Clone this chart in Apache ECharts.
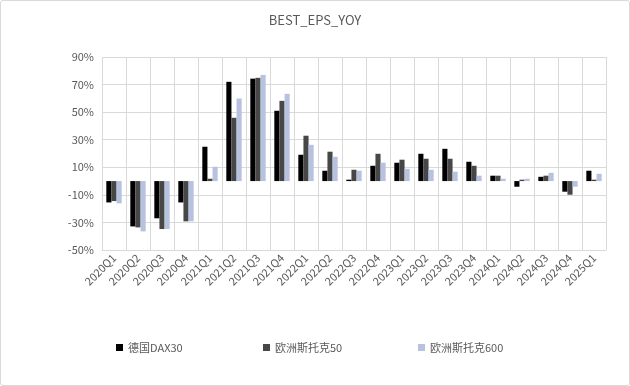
<!DOCTYPE html>
<html><head><meta charset="utf-8">
<script src="https://cdn.jsdelivr.net/npm/echarts@6/dist/echarts.min.js"></script>
<style>
html,body{margin:0;padding:0;background:#fff;}
#c{width:628px;height:384px;border:1px solid #d9d9d9;border-radius:3px;}
</style></head>
<body><div id="c"></div>
<script>
const categories = ['2020Q1','2020Q2','2020Q3','2020Q4','2021Q1','2021Q2','2021Q3','2021Q4','2022Q1','2022Q2','2022Q3','2022Q4','2023Q1','2023Q2','2023Q3','2023Q4','2024Q1','2024Q2','2024Q3','2024Q4','2025Q1'];
const dax30 = [-15.5,-32.9,-27,-15.5,24.9,72,74.3,51,19.1,7.5,1,11.1,13.3,19.8,23.4,14,3.9,-4.1,3.1,-7.7,7.5];
const stoxx50 = [-14.5,-33.6,-34.8,-29.2,1.7,45.9,74.9,58.2,32.9,21.3,8.2,19.8,15.5,16.2,16.2,11.1,3.9,1,3.9,-9.9,1];
const stoxx600 = [-16.2,-36.5,-34.8,-29.2,10.4,59.9,77,63.3,26.3,17.6,7.5,13.3,8.9,8.2,6.8,3.9,1.7,1.7,6,-4.1,5.3];
const seriesNames = ['德国DAX30','欧洲斯托克50','欧洲斯托克600'];
const colors = ['#000000','#474747','#b6c2e0'];
const font = '"Microsoft YaHei","Noto Sans CJK SC",sans-serif';
const chart = echarts.init(document.getElementById('c'));
const mkLegend = (name, left) => ({
  data:[name], left:left, top:336, itemWidth:7, itemHeight:7, icon:'rect', itemGap:5,
  textStyle:{color:'#595959', fontSize:11, fontFamily:font}
});
chart.setOption({
  animation:false,
  color: colors,
  title:{text:'BEST_EPS_YOY', left:'center', top:8, textStyle:{color:'#595959', fontSize:13, fontWeight:'normal', fontFamily:font}},
  legend:[mkLegend(seriesNames[0],110), mkLegend(seriesNames[1],257), mkLegend(seriesNames[2],412)],
  grid:{left:101, right:23, top:56, bottom:135},
  xAxis:{type:'category', data:categories,
    axisLine:{onZero:false, lineStyle:{color:'#d9d9d9'}},
    axisTick:{show:false},
    splitLine:{show:true, lineStyle:{color:'#d9d9d9'}},
    axisLabel:{rotate:45, color:'#595959', fontSize:11, fontFamily:font, interval:0, margin:6}
  },
  yAxis:{type:'value', min:-50, max:90, interval:20,
    axisLine:{show:false}, axisTick:{show:false},
    splitLine:{lineStyle:{color:'#d9d9d9'}},
    axisLabel:{color:'#595959', fontSize:11, fontFamily:font, formatter:v=>v+'%', margin:8}
  },
  series:[
    {name:seriesNames[0], type:'bar', data:dax30, barGap:'0%', barCategoryGap:'36%'},
    {name:seriesNames[1], type:'bar', data:stoxx50, barGap:'0%', barCategoryGap:'36%'},
    {name:seriesNames[2], type:'bar', data:stoxx600, barGap:'0%', barCategoryGap:'36%'}
  ]
});
</script></body></html>
